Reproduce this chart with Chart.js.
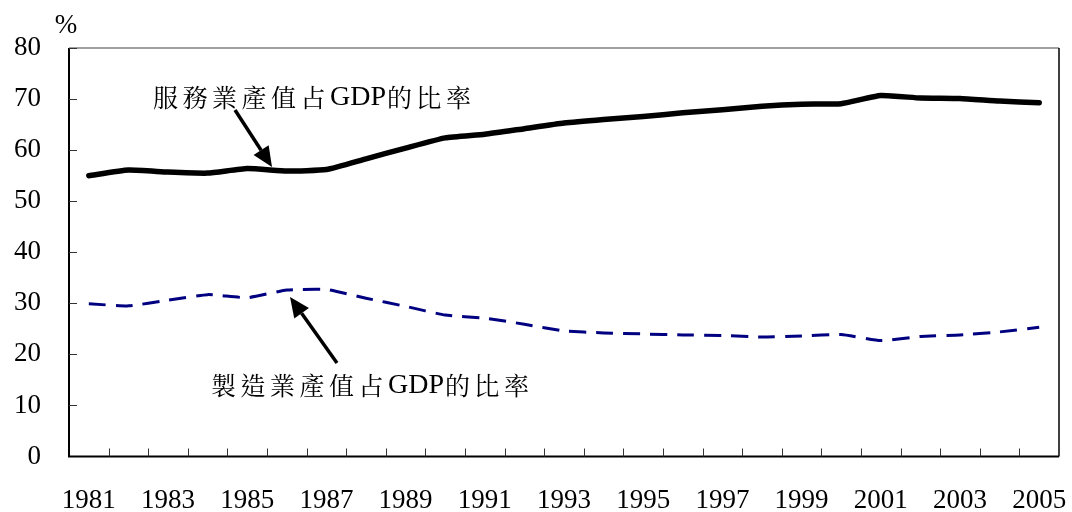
<!DOCTYPE html>
<html>
<head>
<meta charset="utf-8">
<script src="https://cdn.jsdelivr.net/npm/chart.js"></script>
<style>
  html, body { margin: 0; padding: 0; background: #fff; }
  #wrap { width: 1072px; height: 512px; position: relative; }
</style>
</head>
<body>
<div id="wrap"><canvas id="c" width="1072" height="512"></canvas></div>
<script>
// 年份與兩條序列 (占GDP百分比)
const years = ['1981','1982','1983','1984','1985','1986','1987','1988','1989','1990',
               '1991','1992','1993','1994','1995','1996','1997','1998','1999','2000',
               '2001','2002','2003','2004','2005'];
const serviceShare = [55.0, 56.1, 55.7, 55.5, 56.4, 55.9, 56.2, 58.3, 60.4, 62.4,
                      63.1, 64.2, 65.3, 66.0, 66.6, 67.3, 67.9, 68.6, 69.0, 69.1,
                      70.7, 70.2, 70.1, 69.6, 69.3];
const mfgShare = [29.9, 29.5, 30.6, 31.7, 31.1, 32.6, 32.7, 31.0, 29.4, 27.7,
                  27.1, 25.9, 24.6, 24.2, 24.0, 23.8, 23.7, 23.4, 23.6, 23.9,
                  22.7, 23.5, 23.8, 24.4, 25.3];
const yTicks = [0, 10, 20, 30, 40, 50, 60, 70, 80];

const SERIF = '"Liberation Serif", "Times New Roman", serif';
const CJK = '"Noto Serif CJK TC", "Noto Sans CJK TC", serif';

// 外框、刻度、註解與箭頭
const decorPlugin = {
  id: 'decor',
  afterDraw(chart) {
    const ctx = chart.ctx;
    const a = chart.chartArea;
    const xs = chart.scales.x;
    const ys = chart.scales.y;
    ctx.save();

    // frame: top gray, right black
    ctx.lineWidth = 1.5;
    ctx.strokeStyle = '#808080';
    ctx.beginPath(); ctx.moveTo(a.left, a.top); ctx.lineTo(a.right, a.top); ctx.stroke();
    ctx.strokeStyle = '#000';
    ctx.beginPath(); ctx.moveTo(a.right, a.top); ctx.lineTo(a.right, a.bottom); ctx.stroke();
    // axes
    ctx.lineWidth = 2;
    ctx.beginPath(); ctx.moveTo(a.left, a.top); ctx.lineTo(a.left, a.bottom); ctx.lineTo(a.right, a.bottom); ctx.stroke();

    // inner ticks on y
    ctx.lineWidth = 1;
    ctx.strokeStyle = '#333';
    yTicks.forEach(v => {
      if (v === 0) return;
      const y = Math.round(ys.getPixelForValue(v)) + 0.5;
      ctx.beginPath(); ctx.moveTo(a.left, y); ctx.lineTo(a.left + 8, y); ctx.stroke();
    });
    // inner ticks on x at category boundaries
    const half = (xs.getPixelForValue(1) - xs.getPixelForValue(0)) / 2;
    for (let i = 0; i < years.length - 1; i++) {
      const x = Math.round(xs.getPixelForValue(i) + half) + 0.5;
      ctx.beginPath(); ctx.moveTo(x, a.bottom); ctx.lineTo(x, a.bottom - 8); ctx.stroke();
    }

    // % unit
    ctx.fillStyle = '#000';
    ctx.font = '27px ' + SERIF;
    ctx.textAlign = 'center';
    ctx.textBaseline = 'middle';
    ctx.fillText('%', 66, 26);

    // annotations
    drawLabel(ctx, ['服務業產值占', 'GDP', '的比率'], 153, 97);
    drawLabel(ctx, ['製造業產值占', 'GDP', '的比率'], 211, 385);

    drawArrow(ctx, 235, 110, 272, 167);
    drawArrow(ctx, 337, 363, 290, 297);
    ctx.restore();
  }
};

function drawLabel(ctx, parts, x, y) {
  ctx.textAlign = 'left';
  ctx.textBaseline = 'middle';
  parts.forEach((p, i) => {
    if (i === 1) {
      ctx.font = '28px ' + SERIF;
      ctx.letterSpacing = '0px';
    } else {
      ctx.font = '25px ' + CJK;
      ctx.letterSpacing = '4.5px';
    }
    ctx.fillText(p, x, y + (i === 1 ? 1 : 0));
    x += ctx.measureText(p).width + (i === 1 ? 1 : 0);
  });
  ctx.letterSpacing = '0px';
}

function drawArrow(ctx, x1, y1, x2, y2) {
  const ang = Math.atan2(y2 - y1, x2 - x1);
  const len = 20, w = 9;
  const bx = x2 - len * Math.cos(ang), by = y2 - len * Math.sin(ang);
  ctx.strokeStyle = '#000';
  ctx.lineWidth = 3.5;
  ctx.beginPath(); ctx.moveTo(x1, y1); ctx.lineTo(bx, by); ctx.stroke();
  ctx.fillStyle = '#000';
  ctx.beginPath();
  ctx.moveTo(x2, y2);
  ctx.lineTo(bx + w * Math.sin(ang), by - w * Math.cos(ang));
  ctx.lineTo(bx - w * Math.sin(ang), by + w * Math.cos(ang));
  ctx.closePath();
  ctx.fill();
}

new Chart(document.getElementById('c'), {
  type: 'line',
  data: {
    labels: years,
    datasets: [
      {
        label: '服務業產值占GDP的比率',
        data: serviceShare,
        borderColor: '#000',
        borderWidth: 5.5,
        pointRadius: 0,
        tension: 0.15,
        borderCapStyle: 'round',
        borderJoinStyle: 'round'
      },
      {
        label: '製造業產值占GDP的比率',
        data: mfgShare,
        borderColor: '#000080',
        borderWidth: 3,
        borderDash: [17, 10],
        pointRadius: 0,
        tension: 0.15
      }
    ]
  },
  options: {
    responsive: false,
    animation: false,
    layout: { padding: { top: 48, right: 13, left: 0, bottom: 0 } },
    plugins: { legend: { display: false }, tooltip: { enabled: false } },
    scales: {
      x: {
        offset: true,
        grid: { display: false, drawTicks: false },
        border: { display: false },
        ticks: {
          autoSkip: false,
          maxRotation: 0,
          padding: 28,
          color: '#000',
          font: { family: SERIF, size: 27 },
          callback: (v, i) => (i % 2 === 0 ? years[i] : '')
        },
        afterFit: s => { s.height = 55.5; s.paddingLeft = 0; s.paddingRight = 0; }
      },
      y: {
        min: 0,
        max: 80,
        grid: { display: false, drawTicks: false },
        border: { display: false },
        afterBuildTicks: s => { s.ticks = yTicks.map(v => ({ value: v })); },
        ticks: {
          padding: 28,
          color: '#000',
          font: { family: SERIF, size: 27 }
        },
        afterFit: s => { s.width = 69; s.paddingTop = 0; s.paddingBottom = 0; }
      }
    }
  },
  plugins: [decorPlugin]
});
</script>
</body>
</html>
